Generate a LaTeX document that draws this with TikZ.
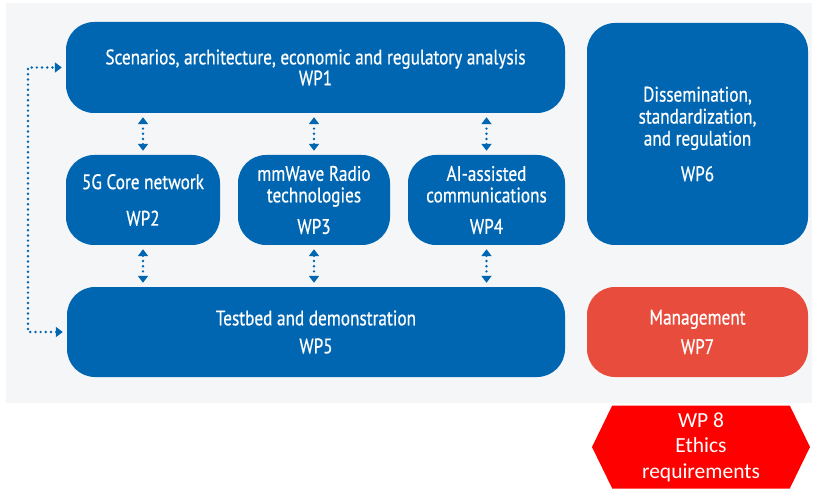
\documentclass[tikz,border=0pt]{standalone}
\usepackage{fontspec}
\usetikzlibrary{arrows.meta,shapes.symbols}
\newfontfamily\wpfont[FakeStretch=0.82,FakeBold=0.6]{PT Sans}
\newfontfamily\ethicsfont{Carlito}
\definecolor{wpblue}{RGB}{0,102,178}
\definecolor{wpred}{RGB}{232,76,61}
\definecolor{panelgrey}{RGB}{245,246,247}

\begin{document}
\begin{tikzpicture}[x=1pt,y=-1pt,
    wp/.style ={rectangle, rounded corners=28pt, fill=wpblue, text=white, align=center,
      inner sep=0pt, font=\wpfont\fontsize{21}{21.5}\selectfont},
    link/.style ={wpblue, line width=2.7pt, line cap=round, dash pattern=on 0pt off 5.2pt,
      {Triangle[width=10pt,length=7pt]}-{Triangle[width=10pt,length=7pt]}}]
   \useasboundingbox (0,0) rectangle (814,489);
   \fill[panelgrey] (6,3) rectangle (812,403);
   \node[wp, minimum width=499, minimum height=91] (wp1) at (315.5,67.5)
     {Scenarios, architecture, economic and regulatory analysis\\[-0.5pt]WP1};
   \node[wp, minimum width=154, minimum height=90] (wp2) at (143,200)
     {5G Core network\\[15pt]WP2};
   \node[wp, minimum width=152, minimum height=90] (wp3) at (314,200)
     {mmWave Radio\\technologies\\[10pt]WP3};
   \node[wp, minimum width=157, minimum height=90] (wp4) at (486.5,200)
     {AI-assisted\\communications\\[10pt]WP4};
   \node[wp, minimum width=498, minimum height=90] (wp5) at (316,332)
     {Testbed and demonstration\\[6.5pt]WP5};
   \node[wp, minimum width=221, minimum height=222] (wp6) at (697.5,134)
     {Dissemination,\\[0.5pt]standardization,\\[0.5pt]and regulation\\[14pt]WP6};
   \node[wp, fill=wpred, minimum width=221, minimum height=90] (wp7) at (697.5,332)
     {Management\\[8pt]WP7};
   \node[signal, signal to=east and west, signal pointer angle=128, fill=red, text=white,
     align=center, inner sep=0pt, minimum width=218, minimum height=83,
     font=\ethicsfont\fontsize{21.5}{25.5}\selectfont] (wp8) at (701,447)
     {WP 8\\Ethics\\requirements};
   \coordinate (loop) at (28,332);
   \draw[link, shorten <=4pt, shorten >=4pt] (wp2.north) -- (wp2.north |- wp1.south);
   \draw[link, shorten <=4pt, shorten >=4pt] (wp3.north) -- (wp3.north |- wp1.south);
   \draw[link, shorten <=4pt, shorten >=4pt] (wp4.north) -- (wp4.north |- wp1.south);
   \draw[link, shorten <=4pt, shorten >=4pt] (wp2.south) -- (wp2.south |- wp5.north);
   \draw[link, shorten <=4pt, shorten >=4pt] (wp3.south) -- (wp3.south |- wp5.north);
   \draw[link, shorten <=4pt, shorten >=4pt] (wp4.south) -- (wp4.south |- wp5.north);
   \draw[link, shorten <=4pt, shorten >=4pt] (wp5.west) -- (loop) |- (wp1.west);
\end{tikzpicture}
\end{document}
